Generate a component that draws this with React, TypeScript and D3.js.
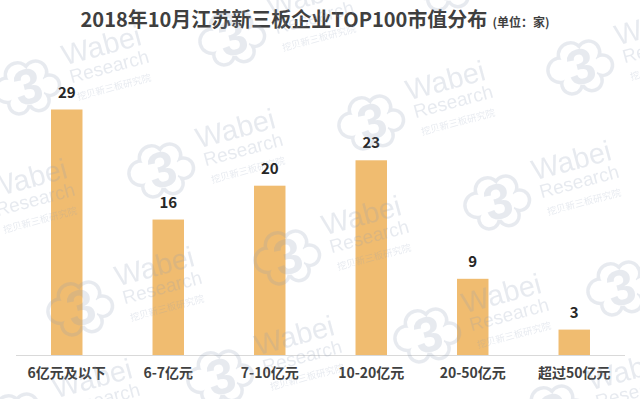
import React, { useEffect } from 'react';
import * as d3 from 'd3';

const categories = ['6亿元及以下', '6-7亿元', '7-10亿元', '10-20亿元', '20-50亿元', '超过50亿元'];
const counts = [29, 16, 20, 23, 9, 3];
const titleText = '2018年10月江苏新三板企业TOP100市值分布';
const unitText = '(单位：家)';

// watermark centres (decoration only)
const marks: [number, number][] = [
  [232, 38], [446, -17], [27, 87], [371, 122], [580, 67], [161, 170],
  [-47, 220], [287, 257], [497, 202], [620, 288], [80, 308], [220, 377],
  [427, 335], [553, 412], [18, 420],
];

const width = 640;
const height = 399;
const barColor = '#F0BC70';
const wmColor = '#8a9ab5';

// cloud lobes: cx, cy, r
const lobes = [
  [-20, -2, 14], [-6, -14, 14], [12, -12, 13], [22, 4, 12], [8, 16, 12], [-12, 14, 12],
];

const Watermark: React.FC<{ x: number; y: number }> = ({ x, y }) => (
  <g transform={`translate(${x},${y}) rotate(-15)`} opacity={0.2} fill={wmColor}>
    <rect x={-40} y={-40} width={80} height={80} mask="url(#cloudRing)" />
    <text x={1} y={17} textAnchor="middle" fontSize={50} fontWeight="bold" fontFamily="Liberation Sans, Arial, sans-serif">3</text>
    <text x={42} y={-11} fontSize={29} fontFamily="Liberation Sans, Arial, sans-serif">Wabei</text>
    <text x={44} y={8} fontSize={19} fontFamily="Liberation Sans, Arial, sans-serif">Research</text>
    <text x={46} y={26} fontSize={9.5} fontFamily="Noto Sans CJK SC, sans-serif">挖贝新三板研究院</text>
  </g>
);

const App: React.FC = () => {
  useEffect(() => {
    document.body.style.margin = '0';
  }, []);

  const x = d3.scaleBand<string>()
    .domain(categories)
    .range([16, 625])
    .paddingInner(0.69)
    .paddingOuter(0.345);

  const y = d3.scaleLinear()
    .domain([0, d3.max(counts) as number])
    .range([355, 109.5]);

  return (
    <svg width={width} height={height} style={{ display: 'block', background: '#fff' }}
      fontFamily="'Noto Sans CJK SC', 'Noto Sans', sans-serif">
      <defs>
        <mask id="cloudRing" maskUnits="userSpaceOnUse" x={-40} y={-40} width={80} height={80}>
          <circle cx={0} cy={0} r={20} fill="#fff" />
          {lobes.map(([cx, cy, r], i) => <circle key={'o' + i} cx={cx} cy={cy} r={r} fill="#fff" />)}
          <circle cx={0} cy={0} r={18} fill="#000" />
          {lobes.map(([cx, cy, r], i) => <circle key={'i' + i} cx={cx} cy={cy} r={r - 3.5} fill="#000" />)}
        </mask>
      </defs>

      {/* Title */}
      <text x={315} y={27} textAnchor="middle" fill="#3f3f3f" fontWeight="bold" fontSize={20}>
        {titleText}
        <tspan dx={5} fontSize={12}>{unitText}</tspan>
      </text>

      {/* Bars */}
      {categories.map((c, i) => (
        <rect key={c} x={x(c)} y={y(counts[i])} width={x.bandwidth()}
          height={y(0) - y(counts[i])} fill={barColor} />
      ))}

      {/* Baseline */}
      <line x1={16} x2={625} y1={355.5} y2={355.5} stroke="#d9d9d9" strokeWidth={1} />

      {/* Value labels */}
      {categories.map((c, i) => (
        <text key={'v' + c} x={(x(c) as number) + x.bandwidth() / 2} y={y(counts[i]) - 12}
          textAnchor="middle" fontSize={15} fontWeight="bold" fill="#262626">{counts[i]}</text>
      ))}

      {/* Category labels */}
      {categories.map((c) => (
        <text key={'c' + c} x={(x(c) as number) + x.bandwidth() / 2} y={378}
          textAnchor="middle" fontSize={14} fontWeight="bold" fill="#404040">{c}</text>
      ))}

      {/* Watermarks */}
      {marks.map(([mx, my], i) => <Watermark key={i} x={mx} y={my} />)}
    </svg>
  );
};

export default App;
